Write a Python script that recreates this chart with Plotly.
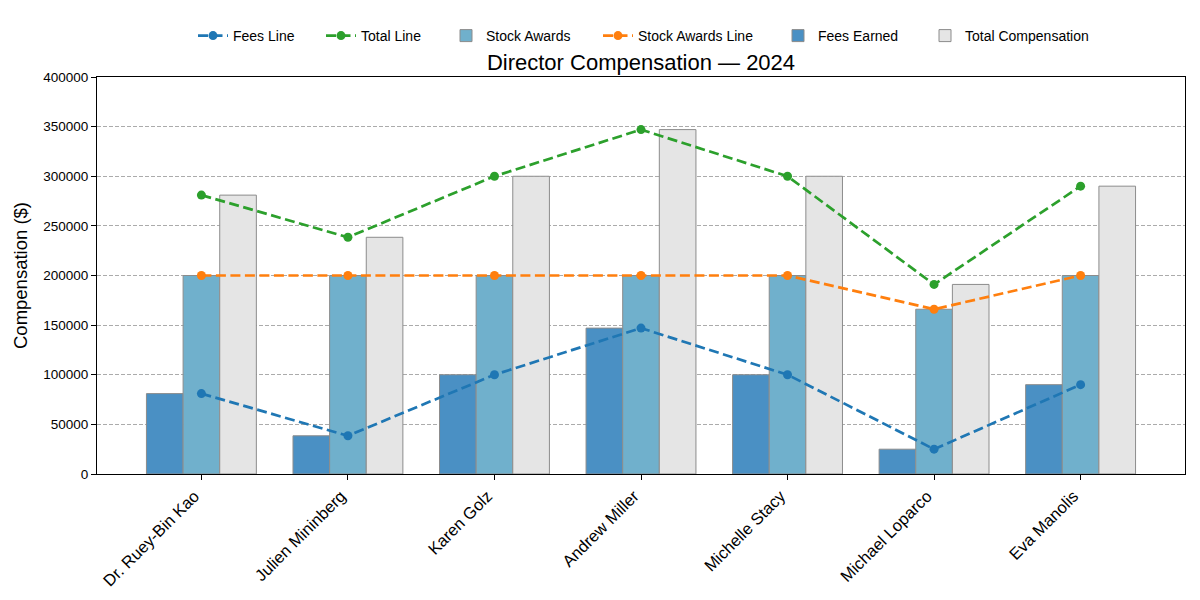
import plotly.graph_objects as go

directors = ["Dr. Ruey-Bin Kao", "Julien Mininberg", "Karen Golz", "Andrew Miller",
             "Michelle Stacy", "Michael Loparco", "Eva Manolis"]
fees_earned = [81000, 38500, 100000, 147000, 100000, 25000, 90000]
stock_awards = [200000, 200000, 200000, 200000, 200000, 166000, 200000]
total_comp = [281000, 238500, 300000, 347000, 300000, 191000, 290000]
y_ticks = [0, 50000, 100000, 150000, 200000, 250000, 300000, 350000, 400000]

x = list(range(len(directors)))
FONT = "Liberation Sans, Arial, sans-serif"
OFF = 8  # page body offset in px

# legend entries: (legend id, text start px)
legend_pos = {"legend": 233, "legend2": 361, "legend3": 486,
              "legend4": 638, "legend5": 818, "legend6": 965}

fig = go.Figure()
edge = dict(color="#8c8c8c", width=1)
fig.add_trace(go.Bar(x=x, y=fees_earned, name="Fees Earned",
                     marker=dict(color="#4a90c4", line=edge), legend="legend5"))
fig.add_trace(go.Bar(x=x, y=stock_awards, name="Stock Awards",
                     marker=dict(color="#70b0cc", line=edge), legend="legend3"))
fig.add_trace(go.Bar(x=x, y=total_comp, name="Total Compensation",
                     marker=dict(color="#e5e5e5", line=edge), legend="legend6"))

def line(vals, name, color, leg):
    return go.Scatter(x=x, y=vals, name=name, mode="lines+markers",
                      line=dict(color=color, width=2.7, dash="10px,4.5px"),
                      marker=dict(color=color, size=9), legend=leg, showlegend=True)

fig.add_trace(line(fees_earned, "Fees Line", "#1f77b4", "legend"))
fig.add_trace(line(total_comp, "Total Line", "#2ca02c", "legend2"))
fig.add_trace(line(stock_awards, "Stock Awards Line", "#ff7f0e", "legend4"))

legends = {}
for lid, tx in legend_pos.items():
    legends[lid] = dict(orientation="h", xref="container", yref="container",
                        x=(tx - 40 - OFF) / 1200, xanchor="left",
                        y=1 - (36 - OFF) / 600, yanchor="middle",
                        font=dict(size=14, family=FONT), bgcolor="rgba(0,0,0,0)",
                        borderwidth=0, itemwidth=30)

fig.update_layout(
    width=1200, height=600, showlegend=True,
    barmode="group", bargap=0.25, bargroupgap=0,
    plot_bgcolor="white", paper_bgcolor="white",
    font=dict(family=FONT, size=14, color="black"),
    margin=dict(l=97 - OFF, r=15 + OFF, t=77 - OFF, b=126 + OFF, autoexpand=False),
    title=dict(text="Director Compensation — 2024", x=0.5, xanchor="center",
               xref="paper", yref="container",
               y=1 - (62 - OFF) / 600, yanchor="middle", font=dict(size=22, family=FONT)),
    xaxis=dict(range=[-0.7125, 6.7125], tickmode="array", tickvals=x, ticktext=directors,
               tickangle=-45, showgrid=False, zeroline=False, showline=True, linecolor="black",
               linewidth=1, mirror=True, ticks="outside", ticklen=5, tickcolor="black",
               tickfont=dict(size=16.5), automargin=False, ticklabelshift=-7),
    yaxis=dict(range=[0, 400000], tickmode="array", tickvals=y_ticks,
               ticktext=[str(v) for v in y_ticks], showgrid=True, gridcolor="#ababab",
               griddash="4px,2px", gridwidth=1, zeroline=False, showline=True, linecolor="black",
               linewidth=1, mirror=True, ticks="outside", ticklen=5, tickcolor="black",
               title=dict(text="Compensation ($)", font=dict(size=18.5), standoff=10),
               tickfont=dict(size=13.5), automargin=False),
    **legends,
)

fig.write_html("out.html")
